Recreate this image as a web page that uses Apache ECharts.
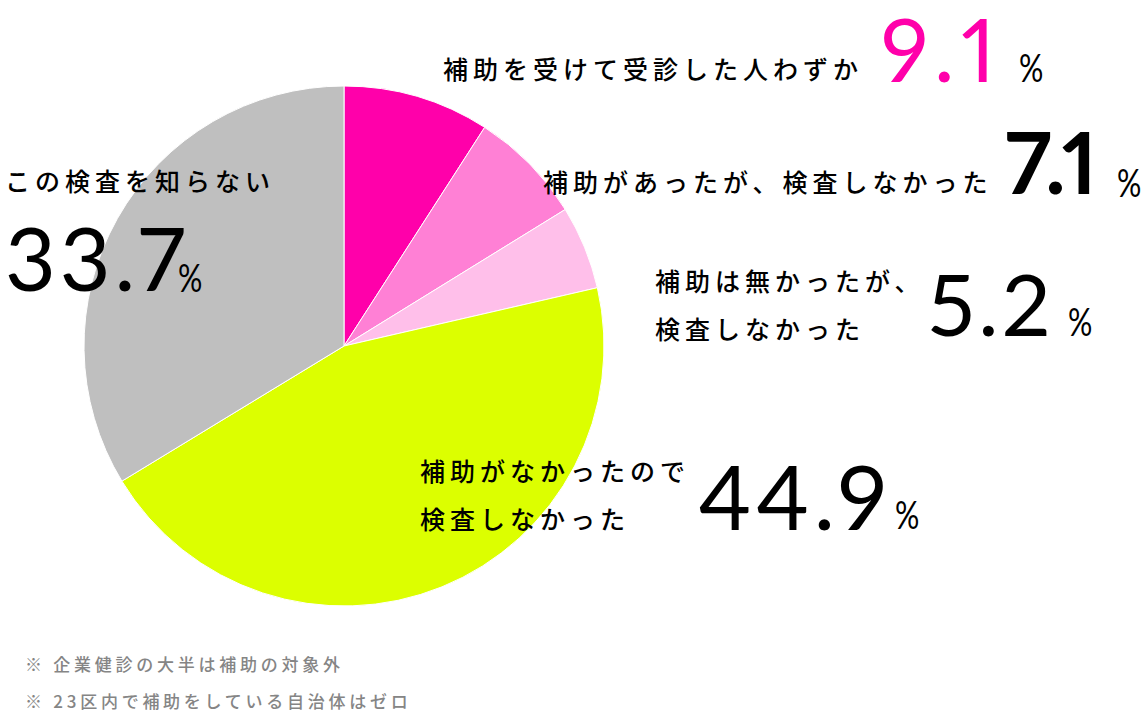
<!DOCTYPE html>
<html><head><meta charset="utf-8">
<script src="https://cdn.jsdelivr.net/npm/echarts@6/dist/echarts.min.js"></script>
<style>
html,body{margin:0;padding:0;background:#fff}
#c{width:1144px;height:724px}
#c text{letter-spacing:0.2em}
</style></head><body><div id="c"></div>
<script>
// ---- data ----
const categories = ['補助を受けて受診した人わずか', '補助があったが、検査しなかった', '補助は無かったが、\n検査しなかった', '補助がなかったので\n検査しなかった', 'この検査を知らない'];
const values = [9.1, 7.1, 5.2, 44.9, 33.7];
const valueLabels = ['9.1', '7.1', '5.2', '44.9', '33.7'];
const unitLabel = '%';
const notes = ['※ 企業健診の大半は補助の対象外', '※ 23区内で補助をしている自治体はゼロ'];

// ---- styles / layout ----
const colors = ['#ff00aa', '#ff80d5', '#ffbfea', '#dcff00', '#bfbfbf'];
const layout = [
  {tx: 443, ty: 68,  nx: 881, ny: 48,  ns: 87, nw: 400, nc: '#ff00aa', px: 1019, py: 67, sp: '0.12em'},
  {tx: 543, ty: 181, nx: 1005, ny: 160, ns: 86, nw: 700, nc: '#000', px: 1117, py: 182, sp: '0.0em'},
  {tx: 655, ty: 304, nx: 928, ny: 302, ns: 86, nw: 400, nc: '#000', px: 1068, py: 321, sp: '0.04em'},
  {tx: 420, ty: 494, nx: 698, ny: 495, ns: 90, nw: 400, nc: '#000', px: 895, py: 514, sp: '0.045em'},
  {tx: 5,   ty: 180, nx: 5,   ny: 257, ns: 88, nw: 400, nc: '#000', px: 178, py: 277, sp: '0.045em'}
];
const JP = '"Noto Sans CJK JP", "Noto Sans", sans-serif';
const NUM = 'Lato, "Open Sans", sans-serif';

const elements = [];
categories.forEach((c, i) => {
  const L = layout[i];
  elements.push({type: 'text', x: L.tx, y: L.ty, z: 100, silent: true,
    style: {text: c, fontSize: 25, fontWeight: 500, lineHeight: 48, fontFamily: JP, fill: '#000', align: 'left', verticalAlign: 'middle'}});
  elements.push({type: 'text', x: L.nx, y: L.ny, z: 100, silent: true,
    style: {text: valueLabels[i], fontSize: L.ns, fontWeight: L.nw, lineHeight: 68, fontFamily: NUM, fill: L.nc, align: 'left', verticalAlign: 'middle'}});
  elements.push({type: 'text', x: L.px, y: L.py, z: 100, silent: true, scaleX: 0.8,
    style: {text: unitLabel, fontSize: 38, fontWeight: 400, fontFamily: NUM, fill: '#000', align: 'left', verticalAlign: 'middle'}});
});
notes.forEach((n, i) => {
  elements.push({type: 'text', x: 25, y: 663 + i * 37, z: 100, silent: true,
    style: {text: n, fontSize: 17, fontWeight: 500, fontFamily: JP, fill: '#858585', align: 'left', verticalAlign: 'middle'}});
});

const chart = echarts.init(document.getElementById('c'), null, {renderer: 'svg'});
chart.setOption({
  animation: false,
  backgroundColor: '#fff',
  series: [{
    type: 'pie',
    z: 1,
    center: [344, 346],
    radius: [0, 260],
    startAngle: 90,
    clockwise: true,
    label: {show: false},
    labelLine: {show: false},
    emphasis: {disabled: true},
    itemStyle: {borderColor: '#fff', borderWidth: 1},
    data: values.map((v, i) => ({name: categories[i], value: v, itemStyle: {color: colors[i]}}))
  }],
  graphic: {elements: elements}
});

function applySpacing() {
  document.querySelectorAll('#c text').forEach(t => {
    const ff = getComputedStyle(t).fontFamily || '';
    const txt = t.textContent;
    const idx = valueLabels.indexOf(txt);
    if (ff.indexOf('Lato') >= 0) {
      t.style.letterSpacing = idx >= 0 ? layout[idx].sp : '0';
      t.style.fontVariantNumeric = 'proportional-nums';
    } else {
      t.style.letterSpacing = notes.indexOf(txt) >= 0 ? '0.22em' : '0.2em';
    }
  });
}
applySpacing();
chart.on('finished', applySpacing);
setTimeout(applySpacing, 50);
</script></body></html>
